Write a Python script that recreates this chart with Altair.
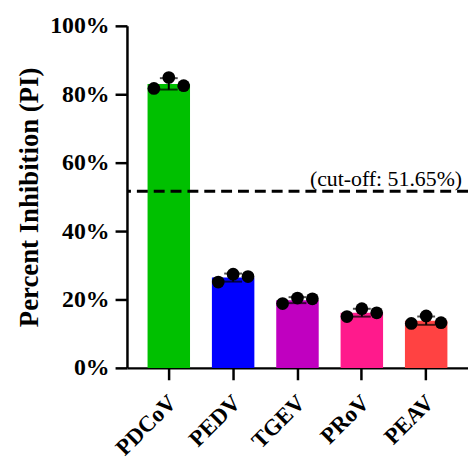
import altair as alt
import pandas as pd
import numpy as np

categories = ["PDCoV", "PEDV", "TGEV", "PRoV", "PEAV"]
colors = ["#00C000", "#0000FF", "#C000C0", "#FF1A8C", "#FF4242"]
rep1 = [0.817, 0.251, 0.188, 0.150, 0.130]
rep2 = [0.849, 0.274, 0.204, 0.173, 0.152]
rep3 = [0.825, 0.267, 0.202, 0.161, 0.132]
cutoff = [0.5165]
cutoff_label = ["(cut-off: 51.65%)"]

FONT = "Liberation Serif"

pts = []
summ = []
for i, c in enumerate(categories):
    vals = [rep1[i], rep2[i], rep3[i]]
    for r, v in enumerate(vals):
        pts.append({"cat": c, "rep": r, "val": v})
    m = float(np.mean(vals)); s = float(np.std(vals, ddof=1))
    summ.append({"cat": c, "mean": m, "lo": m - s, "hi": m + s, "color": colors[i]})
pts = pd.DataFrame(pts)
summ = pd.DataFrame(summ)
cut = pd.DataFrame({"y": cutoff, "label": cutoff_label})

xscale = alt.Scale(domain=categories, paddingInner=0.34, paddingOuter=0.32)
yscale = alt.Scale(domain=[0, 1])

x = alt.X("cat:N", scale=xscale, sort=categories, title=None,
          axis=alt.Axis(labelAngle=-45, labelFont=FONT, labelFontSize=23, labelFontWeight="bold",
                        labelColor="black", domainColor="black", domainWidth=2.5, tickColor="black",
                        tickWidth=2.5, tickSize=12, labelPadding=19, labelAlign="right",
                        labelBaseline="middle", labelOffset=4))
xp = alt.X("cat:N", scale=xscale, sort=categories)

bars = alt.Chart(summ).mark_bar().encode(
    x=x,
    y=alt.Y("mean:Q", scale=yscale, title="Percent Inhibition (PI)",
            axis=alt.Axis(format=".0%", values=[0, 0.2, 0.4, 0.6, 0.8, 1.0], grid=False,
                          labelFont=FONT, labelFontSize=24, labelFontWeight="bold", labelColor="black",
                          titleFont=FONT, titleFontSize=27, titleFontWeight="bold", titleColor="black",
                          domainColor="black", domainWidth=2.5, tickColor="black", tickWidth=2.5,
                          tickSize=12, titlePadding=6, labelPadding=6)),
    color=alt.Color("color:N", scale=None),
)

err = alt.Chart(summ).mark_rule(color="black", strokeWidth=2).encode(x=xp, y="lo:Q", y2="hi:Q")
caps_hi = alt.Chart(summ).mark_tick(color="black", thickness=2, size=18, orient="horizontal").encode(
    x=xp, y="hi:Q")
caps_lo = alt.Chart(summ).mark_tick(color="black", thickness=2, size=18, orient="horizontal").encode(
    x=xp, y="lo:Q")

offsets = [-15, 0, 15]
point_layers = [
    alt.Chart(pts).transform_filter(alt.datum.rep == r).mark_circle(
        color="black", size=165, opacity=1, xOffset=off).encode(x=xp, y="val:Q")
    for r, off in enumerate(offsets)
]

rule = alt.Chart(cut).mark_rule(color="black", strokeWidth=3, strokeDash=[11, 6]).encode(y="y:Q")
text = alt.Chart(cut).mark_text(font=FONT, fontSize=22, align="right", baseline="alphabetic",
                                dy=-5, color="black").encode(
    y="y:Q", x=alt.value(338), text="label:N")

chart = alt.layer(bars, err, caps_hi, caps_lo, *point_layers, rule, text).properties(
    width=344, height=345,
    autosize=alt.AutoSizeParams(type="none"),
    padding={"left": 120, "top": 16, "right": 0, "bottom": 100},
).configure_view(stroke=None).configure_axisX(grid=False)

chart.save("out.html", embed_options={"renderer": "svg", "actions": False})
